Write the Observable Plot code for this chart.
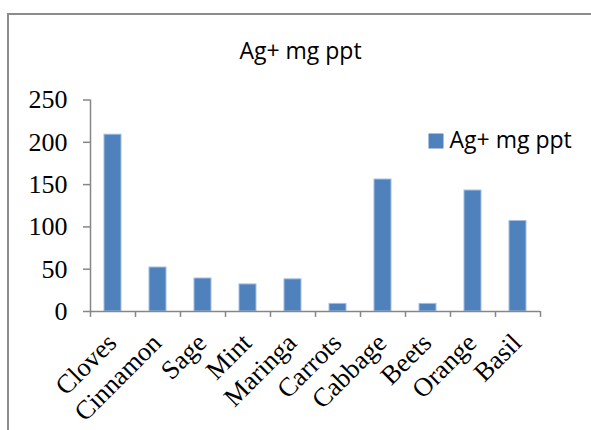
<!DOCTYPE html>
<html>
<head>
<meta charset="utf-8">
<script src="https://cdn.jsdelivr.net/npm/d3@7"></script>
<script src="https://cdn.jsdelivr.net/npm/@observablehq/plot@0.6"></script>
<style>
  html, body { margin: 0; padding: 0; background: #fff; }
  #wrap { position: relative; width: 591px; height: 430px; overflow: hidden; }
  #border { position: absolute; left: 7px; top: 13px; width: 700px; height: 600px;
            border-top: 2px solid #8c8c8c; border-left: 2px solid #8c8c8c; box-sizing: border-box; }
  #chart { position: absolute; left: 0; top: 0; }
</style>
</head>
<body>
<div id="wrap"><div id="border"></div><div id="chart"></div></div>
<script>
const categories = ["Cloves", "Cinnamon", "Sage", "Mint", "Maringa", "Carrots", "Cabbage", "Beets", "Orange", "Basil"];
const values = [209, 52, 39, 32, 38, 9, 156, 9, 143, 107];
const yTicks = [0, 50, 100, 150, 200, 250];
const seriesName = "Ag+ mg ppt";
const chartTitle = "Ag+ mg ppt";

const data = categories.map((c, i) => ({category: c, value: values[i]}));
const barColor = "#4F81BD";
const axisColor = "#868686";
const sans = "'Open Sans', sans-serif";
const serif = "'Liberation Serif', 'Times New Roman', serif";

const chart = Plot.plot({
  width: 591,
  height: 430,
  marginLeft: 90,
  marginRight: 51,
  marginTop: 99.5,
  marginBottom: 119,
  style: {fontFamily: serif, fontSize: "26px", color: "#000", background: "transparent", overflow: "visible"},
  x: {domain: categories, padding: 0, axis: null},
  y: {domain: [0, 250], ticks: yTicks, label: null},
  marks: [
    Plot.barY(data, {x: "category", y: "value", fill: barColor, stroke: "#a4bee0", strokeWidth: 1, insetLeft: 14, insetRight: 14}),
    Plot.ruleY([0], {stroke: axisColor, strokeWidth: 1.5}),
    Plot.ruleX([categories[0]], {x: d => d, y1: 0, y2: 250, dx: -22.5, stroke: axisColor, strokeWidth: 1.5}),
    Plot.ruleX(categories, {x: d => d, y1: 0, y2: -7, dx: -22.5, stroke: axisColor, strokeWidth: 1.5}),
    Plot.ruleX([categories[categories.length - 1]], {x: d => d, y1: 0, y2: -7, dx: 22.5, stroke: axisColor, strokeWidth: 1.5}),
    Plot.axisY({ticks: yTicks, tickSize: 7, tickPadding: 16, stroke: axisColor, strokeWidth: 1.5, label: null, fontSize: 26, fontFamily: serif, fill: "#000"}),
    Plot.text(categories, {x: d => d, y: 0, text: d => d, rotate: -45, textAnchor: "end", lineAnchor: "bottom", dx: 5, dy: 33, fontSize: 26.5, fontFamily: serif, fill: "#000"}),
    Plot.text([chartTitle], {frameAnchor: "top-left", text: d => d, textAnchor: "middle", lineAnchor: "bottom", dx: 210, dy: -41.5, fontSize: 23, fontFamily: sans, fill: "#000"}),
    Plot.dot([seriesName], {frameAnchor: "top-left", symbol: "square", r: 8.46, fill: barColor, dx: 345.5, dy: 41}),
    Plot.text([seriesName], {frameAnchor: "top-left", text: d => d, textAnchor: "start", lineAnchor: "bottom", dx: 359, dy: 48.2, fontSize: 23, fontFamily: sans, fill: "#000"})
  ]
});
document.getElementById("chart").appendChild(chart);
</script>
</body>
</html>
